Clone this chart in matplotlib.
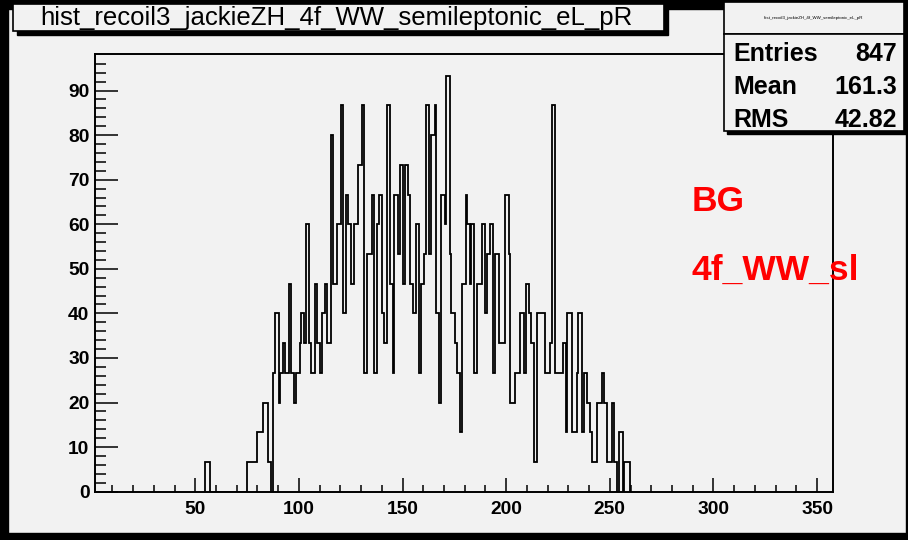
import matplotlib
matplotlib.use("Agg")
import matplotlib.pyplot as plt
from matplotlib.patches import Rectangle
import numpy as np

# ---------------- data ----------------
title_text = "hist_recoil3_jackieZH_4f_WW_semileptonic_eL_pR"
stats_labels = ["Entries", "Mean", "RMS"]
stats_values = ["847", "161.3", "42.82"]
legend_lines = ["BG", "4f_WW_sl"]
x_ticks = [50, 100, 150, 200, 250, 300, 350]
y_ticks = [0, 10, 20, 30, 40, 50, 60, 70, 80, 90]
weight = 20.0 / 3.0   # content per entry

bin_edges = [54.8, 56.9, 74.8, 79.6, 82.5, 85.2, 86.3, 87.5, 88.3, 90.2,
             91.0, 92.3, 93.4, 95.0, 96.1, 97.6, 98.7, 100.3, 101.1, 102.4,
             103.5, 105.1, 105.9, 107.6, 108.7, 110.0, 111.1, 112.7, 113.7, 115.3,
             116.4, 118.5, 120.1, 121.1, 122.7, 123.5, 125.1, 126.4, 128.3, 130.2,
             131.2, 132.8, 135.1, 136.0, 137.6, 138.8, 140.1, 140.9, 142.5, 144.1,
             145.2, 146.0, 148.0, 148.7, 150.0, 151.2, 152.8, 153.6, 155.2, 156.3,
             157.9, 158.7, 160.3, 161.1, 162.7, 163.5, 165.5, 166.3, 167.6, 168.7,
             170.3, 171.1, 172.9, 173.5, 175.1, 176.1, 177.7, 178.8, 180.4, 181.2,
             182.4, 183.2, 184.5, 186.1, 188.5, 189.6, 190.9, 192.0, 193.6, 194.8,
             196.4, 199.6, 201.2, 202.0, 204.4, 206.8, 208.4, 209.7, 211.2, 212.1,
             213.6, 214.9, 218.9, 221.3, 222.1, 223.7, 227.2, 228.9, 229.5, 231.6,
             234.0, 234.8, 236.4, 237.5, 238.8, 240.4, 241.6, 243.7, 246.1, 247.2,
             248.5, 250.9, 252.0, 253.6, 254.6, 256.5, 256.9, 259.7]
bin_counts = [1, 0, 1, 2, 3, 1, 0, 4, 6,
              3, 4, 5, 4, 7, 4, 3, 4, 5, 6,
              5, 9, 5, 4, 7, 5, 4, 6, 7, 5,
              12, 7, 9, 13, 6, 10, 9, 7, 9, 11,
              13, 4, 8, 10, 4, 9, 10, 6, 5, 13,
              7, 4, 10, 8, 11, 7, 11, 10, 7, 6,
              9, 4, 7, 8, 13, 8, 12, 13, 6, 3,
              10, 9, 14, 8, 6, 5, 4, 2, 7, 10,
              9, 7, 9, 4, 7, 9, 6, 8, 9, 4,
              8, 5, 10, 8, 3, 4, 6, 4, 7, 6,
              5, 1, 6, 4, 5, 13, 4, 5, 2, 6,
              2, 4, 6, 2, 4, 3, 2, 1, 3, 4,
              3, 1, 3, 1, 0, 2, 0, 1]

# ---------------- figure ----------------
W, H = 908, 540
bg = "#f2f2f2"
fig = plt.figure(figsize=(W / 100, H / 100), dpi=100)
fig.patch.set_facecolor(bg)

FONT = ["Liberation Sans", "DejaVu Sans"]

ax = fig.add_axes([95 / W, 1 - 491.7 / H, (833 - 95) / W, (491.7 - 54) / H])
ax.set_facecolor(bg)
heights = np.array(bin_counts) * weight
ax.stairs(heights, bin_edges, color="black", lw=1.3)

ax.set_xlim(1.6, 357.7)
ax.set_ylim(0, 98.2)
ax.set_xticks(x_ticks)
ax.set_yticks(y_ticks)
ax.set_xticks(np.arange(10, 357, 10), minor=True)
ax.set_yticks(np.arange(0, 98, 2), minor=True)
for s in ax.spines.values():
    s.set_linewidth(1.4)
ax.tick_params(axis="y", which="major", direction="in", length=16.5, width=1.1,
               pad=4, labelsize=13.8)
ax.tick_params(axis="y", which="minor", direction="in", length=8, width=1.1)
ax.tick_params(axis="x", which="major", direction="in", length=10, width=1.1,
               pad=7, labelsize=13.8)
ax.tick_params(axis="x", which="minor", direction="in", length=5, width=1.1)
for lab in ax.get_xticklabels() + ax.get_yticklabels():
    lab.set_fontfamily(FONT)
    lab.set_fontweight("bold")

# canvas black border
for (x0, y0, w, h) in [(0, 0, 8, H), (0, H - 7, W, 7), (0, 0, W, 9), (W - 2, 0, 2, H)]:
    fig.patches.append(Rectangle((x0 / W, 1 - (y0 + h) / H), w / W, h / H,
                                 transform=fig.transFigure, color="black", zorder=0))

def box(x0, y0, x1, y1, shadow=4):
    fig.patches.append(Rectangle(((x0 + shadow) / W, 1 - (y1 + shadow) / H),
                                 (x1 - x0) / W, (y1 - y0) / H,
                                 transform=fig.transFigure, color="black", zorder=2))
    fig.patches.append(Rectangle((x0 / W, 1 - y1 / H), (x1 - x0) / W, (y1 - y0) / H,
                                 transform=fig.transFigure, facecolor=bg,
                                 edgecolor="black", lw=1.2, zorder=3))

# title box
box(13, 4, 664, 31, shadow=4)
fig.text(336 / W, 1 - 24.5 / H, title_text, ha="center", va="baseline",
         fontsize=18.5, family=FONT, zorder=4)

# stats box
box(724, 2, 904, 34, shadow=2)
box(724, 34, 904, 131, shadow=3)
fig.text(814 / W, 1 - 18 / H, title_text, ha="center", va="center",
         fontsize=3.2, family=FONT, zorder=4)
for i, (lab, val) in enumerate(zip(stats_labels, stats_values)):
    yy = 1 - (61 + i * 33) / H
    fig.text(733 / W, yy, lab, ha="left", va="baseline", fontsize=18,
             fontweight="bold", family=FONT, zorder=4)
    fig.text(897 / W, yy, val, ha="right", va="baseline", fontsize=18,
             fontweight="bold", family=FONT, zorder=4)

# red labels
for i, t in enumerate(legend_lines):
    fig.text(692 / W, 1 - (211 + i * 69) / H, t, ha="left", va="baseline",
             fontsize=25.5, fontweight="bold", color="red", family=FONT, zorder=4)

fig.savefig("out.png", dpi=100, facecolor=fig.get_facecolor())
